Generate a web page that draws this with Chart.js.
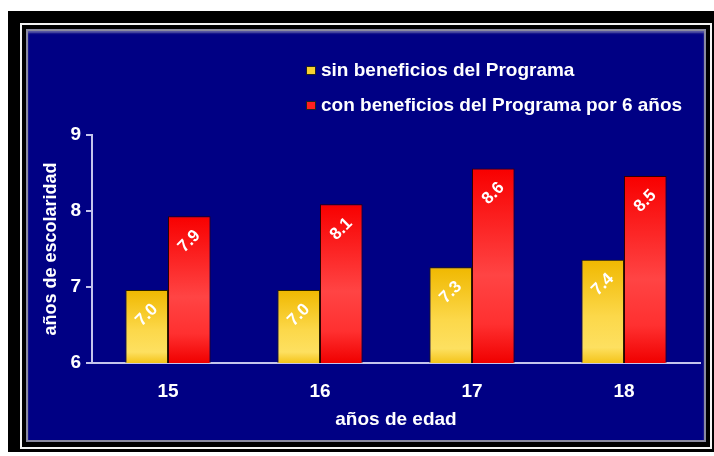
<!DOCTYPE html>
<html>
<head>
<meta charset="utf-8">
<script src="https://cdn.jsdelivr.net/npm/chart.js@4.4.1/dist/chart.umd.min.js"></script>
<style>
  html, body { margin: 0; padding: 0; background: #ffffff; width: 714px; height: 456px; overflow: hidden; }
  #outer { position: absolute; left: 8px; top: 11px; width: 706px; height: 441px; background: #000; }
  #white { position: absolute; left: 20px; top: 23px; width: 688px; height: 422px; border: 2px solid #f4f4f4; background: #000; }
  #navy { position: absolute; left: 26px; top: 29px; width: 676px; height: 409px; background: #000084;
          border: 2px solid #8a8aa0; box-shadow: inset 0 2px 2px rgba(180,180,200,0.5); }
  #wrap { position: absolute; left: 0; top: 0; width: 714px; height: 456px; }
</style>
</head>
<body>
<div id="outer"></div>
<div id="white"></div>
<div id="navy"></div>
<div id="wrap"><canvas id="c" width="714" height="456"></canvas></div>
<script>
const categories = ['15', '16', '17', '18'];
const seriesNames = ['sin beneficios del Programa', 'con beneficios del Programa por 6 años'];
const sinBeneficios = [6.96, 6.96, 7.26, 7.36];
const conBeneficios = [7.93, 8.09, 8.56, 8.46];
const yTicks = [6, 7, 8, 9];

const FONT = '"Liberation Sans", Arial, sans-serif';
const AXIS_COLOR = '#c4c4ec';

function barGradient(ctx, stops) {
  const chart = ctx.chart;
  const area = chart.chartArea;
  if (!area || !chart.scales.y) return stops[1][1];
  const top = chart.scales.y.getPixelForValue(ctx.raw);
  const bottom = chart.scales.y.getPixelForValue(chart.scales.y.min);
  const g = chart.ctx.createLinearGradient(0, top, 0, bottom);
  stops.forEach(s => g.addColorStop(s[0], s[1]));
  return g;
}
const yellowStops = [[0, '#f0b800'], [0.55, '#fcd84a'], [0.85, '#fde060'], [1, '#f4c41a']];
const redStops = [[0, '#f80000'], [0.55, '#ff4444'], [0.8, '#ff3030'], [1, '#f00000']];

const legendPlugin = {
  id: 'customLegend',
  afterDraw(chart) {
    const ctx = chart.ctx;
    const colors = ['#f8d030', '#ff2020'];
    const ys = [70, 105];
    ctx.save();
    ctx.font = 'bold 19px ' + FONT;
    ctx.textBaseline = 'middle';
    chart.data.datasets.forEach((ds, i) => {
      ctx.fillStyle = colors[i];
      ctx.fillRect(306, ys[i] - 4, 10, 9);
      ctx.strokeStyle = '#222';
      ctx.lineWidth = 1;
      ctx.strokeRect(306.5, ys[i] - 3.5, 9, 8);
      ctx.fillStyle = '#ffffff';
      ctx.fillText(ds.label, 321, ys[i] + 1);
    });
    ctx.restore();
  }
};

const valueLabelPlugin = {
  id: 'valueLabels',
  afterDatasetsDraw(chart) {
    const ctx = chart.ctx;
    ctx.save();
    ctx.font = 'bold 17px ' + FONT;
    ctx.fillStyle = '#ffffff';
    ctx.textAlign = 'center';
    ctx.textBaseline = 'middle';
    chart.data.datasets.forEach((ds, di) => {
      const meta = chart.getDatasetMeta(di);
      meta.data.forEach((el, i) => {
        ctx.save();
        ctx.translate(el.x, el.y + 25);
        ctx.rotate(-Math.PI / 4);
        ctx.fillText(ds.data[i].toFixed(1), 0, 0);
        ctx.restore();
      });
    });
    ctx.restore();
  }
};

new Chart(document.getElementById('c'), {
  type: 'bar',
  data: {
    labels: categories,
    datasets: [
      {
        label: seriesNames[0],
        data: sinBeneficios,
        backgroundColor: c => barGradient(c, yellowStops),
        borderColor: '#2a2000',
        borderWidth: 1
      },
      {
        label: seriesNames[1],
        data: conBeneficios,
        backgroundColor: c => barGradient(c, redStops),
        borderColor: '#300000',
        borderWidth: 1
      }
    ]
  },
  options: {
    responsive: false,
    animation: false,
    devicePixelRatio: 1,
    layout: { padding: { left: 36, top: 135, right: 14, bottom: 21 } },
    plugins: { legend: { display: false }, tooltip: { enabled: false } },
    datasets: { bar: { categoryPercentage: 0.56, barPercentage: 1 } },
    scales: {
      x: {
        grid: { display: false, drawTicks: false },
        border: { display: true, color: AXIS_COLOR, width: 2 },
        ticks: { color: '#ffffff', font: { family: FONT, size: 19, weight: 'bold' }, padding: 17 },
        title: { display: true, text: 'años de edad', color: '#ffffff', font: { family: FONT, size: 19, weight: 'bold' } },
        afterFit: s => { s.height = 72; }
      },
      y: {
        min: 6,
        max: 9,
        afterBuildTicks: s => { s.ticks = yTicks.map(v => ({ value: v })); },
        grid: { drawOnChartArea: false, drawTicks: true, tickLength: 6, color: AXIS_COLOR, lineWidth: 2 },
        border: { display: true, color: AXIS_COLOR, width: 2 },
        ticks: { color: '#ffffff', font: { family: FONT, size: 19, weight: 'bold' }, padding: 5 },
        title: { display: true, text: 'años de escolaridad', color: '#ffffff', font: { family: FONT, size: 18, weight: 'bold' } },
        afterFit: s => { s.width = 56; }
      }
    }
  },
  plugins: [legendPlugin, valueLabelPlugin]
});
</script>
</body>
</html>
